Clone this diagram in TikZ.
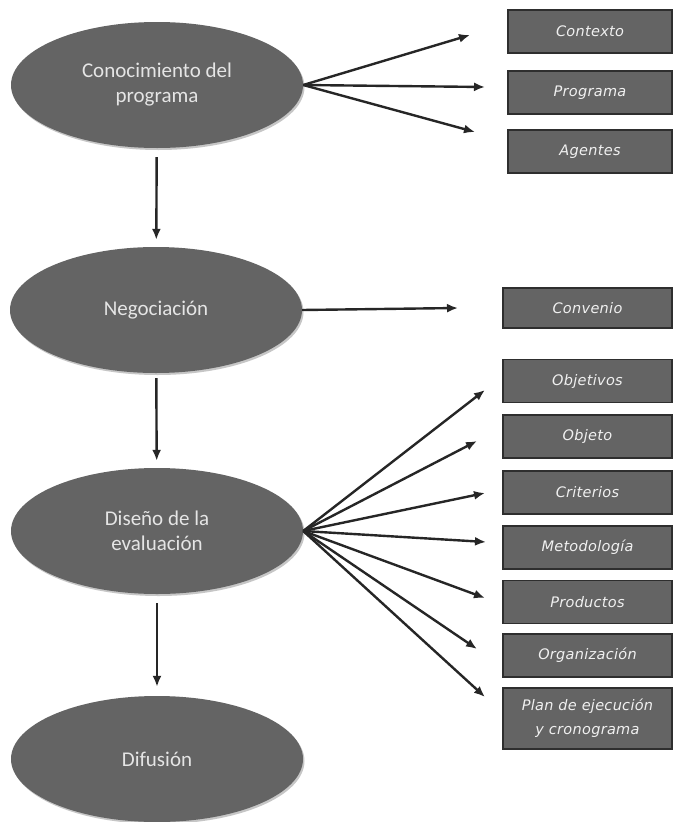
\documentclass[tikz,border=0pt]{standalone}
\usepackage{fontspec}
\setmainfont{Carlito}
\newfontfamily\boxfont[LetterSpace=2]{DejaVu Sans}
\usetikzlibrary{shapes.geometric,arrows.meta,shadows}
\definecolor{etapa}{HTML}{646464}
\definecolor{caja}{HTML}{646464}
\definecolor{borde}{HTML}{2E2E2E}
\tikzset{
  etapa/.style={ellipse, fill=etapa, minimum width=292pt, minimum height=126pt, inner sep=0pt,
    text=white!90!black, align=center, font=\fontsize{21}{25}\selectfont,
    drop shadow={shadow xshift=1.5pt, shadow yshift=-2pt, fill=gray!45, opacity=1}},
  caja/.style={rectangle, fill=caja, draw=borde, line width=1.4pt, minimum width=164pt, minimum height=43pt,
    inner sep=0pt, text=white!94!black, align=center, font=\boxfont\itshape\fontsize{14.5}{24}\selectfont},
  flecha/.style={-{Latex[length=11pt,width=9pt]}, line width=2.4pt, black!85}
}
\begin{document}
\begin{tikzpicture}[x=1pt, y=-1pt]
            \useasboundingbox[fill=white] (0,0) rectangle (673,822);
            % etapas
            \node[etapa] (conoc) at (157,85) {Conocimiento del\\programa};
            \node[etapa] (negoc) at (156,310) {Negociación};
            \node[etapa] (diseno) at (157,531) {Diseño de la\\evaluación};
            \node[etapa] (difus) at (157,759) {Difusión};
            \draw[flecha, shorten <=9pt, shorten >=7pt] (conoc) -- (negoc);
            \draw[flecha, shorten <=5pt, shorten >=7pt] (negoc) -- (diseno);
            \draw[flecha, shorten <=9pt, shorten >=9pt] (diseno) -- (difus);
            % cajas
            \node[caja] (contexto) at (590,31.5) {Contexto};
            \node[caja] (programa) at (590,92.5) {Programa};
            \node[caja] (agentes) at (590,151.5) {Agentes};
            \node[caja, minimum width=169pt, minimum height=40pt] (convenio) at (587.5,308) {Convenio};
            \node[caja, minimum width=169pt] (objetivos) at (587.5,381) {Objetivos};
            \node[caja, minimum width=169pt] (objeto) at (587.5,436.5) {Objeto};
            \node[caja, minimum width=169pt] (criterios) at (587.5,492.5) {Criterios};
            \node[caja, minimum width=169pt] (metodo) at (587.5,547.5) {Metodología};
            \node[caja, minimum width=169pt] (productos) at (587.5,602) {Productos};
            \node[caja, minimum width=169pt] (organiz) at (587.5,655.5) {Organización};
            \node[caja, minimum width=169pt, minimum height=61pt] (plan) at (587.5,718.5) {Plan de ejecución\\y cronograma};
            % puntas de flecha
            \coordinate (a-contexto) at (470,35);
            \coordinate (a-programa) at (485,87);
            \coordinate (a-agentes) at (475,132);
            \coordinate (a-convenio) at (458,308);
            \coordinate (a-objetivos) at (485,390);
            \coordinate (a-objeto) at (477,441);
            \coordinate (a-criterios) at (485,493);
            \coordinate (a-metodo) at (486,542);
            \coordinate (a-productos) at (485,598);
            \coordinate (a-organiz) at (477,649);
            \coordinate (a-plan) at (485,697);
            \draw[flecha] (conoc.east) -- (a-contexto);
            \draw[flecha] (conoc.east) -- (a-programa);
            \draw[flecha] (conoc.east) -- (a-agentes);
            \draw[flecha] (negoc.east) -- (a-convenio);
            \draw[flecha] (diseno.east) -- (a-objetivos);
            \draw[flecha] (diseno.east) -- (a-objeto);
            \draw[flecha] (diseno.east) -- (a-criterios);
            \draw[flecha] (diseno.east) -- (a-metodo);
            \draw[flecha] (diseno.east) -- (a-productos);
            \draw[flecha] (diseno.east) -- (a-organiz);
            \draw[flecha] (diseno.east) -- (a-plan);
\end{tikzpicture}
\end{document}
